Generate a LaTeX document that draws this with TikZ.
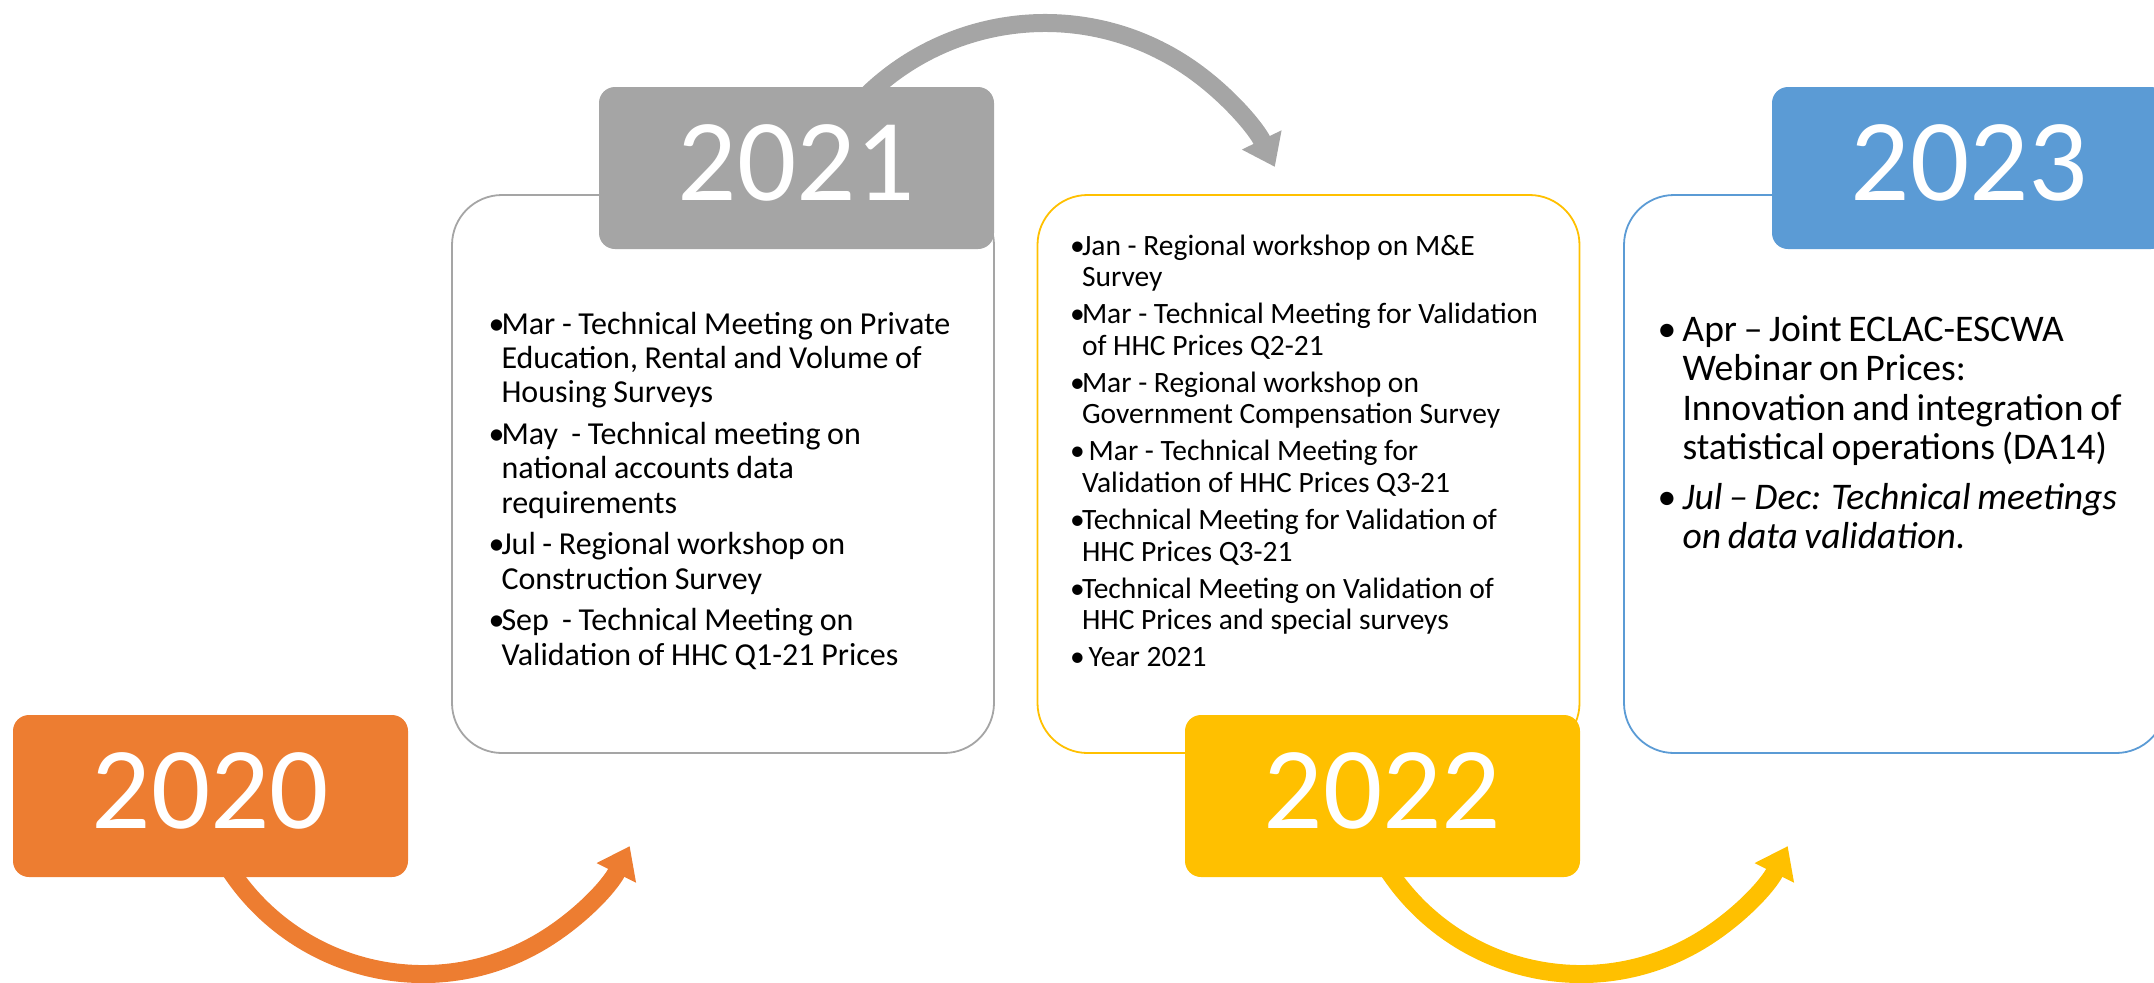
\documentclass[tikz,border=0pt]{standalone}
\usepackage{fontspec}
\setmainfont{Carlito}
\usetikzlibrary{arrows.meta,backgrounds}
\definecolor{yorange}{HTML}{ED7D31}
\definecolor{ygrey}{HTML}{A5A5A5}
\definecolor{yyellow}{HTML}{FFC000}
\definecolor{yblue}{HTML}{5B9BD5}
% first item: continues the paragraph TikZ opens; later items start a new one
\newcommand\bfirst[2]{\hangindent=#1\hangafter=1\makebox[#1][l]{\textbullet}#2}
\newcommand\bitem[2]{\par\hangindent=#1\hangafter=1\noindent\makebox[#1][l]{\textbullet}#2}
\begin{document}
\begin{tikzpicture}[x=0.5pt,y=-0.5pt,
  yearbox/.style={rectangle, rounded corners=8pt, minimum width=197.5pt, minimum height=81pt,
    inner sep=0pt, text=white, font=\fontsize{58.5}{60}\selectfont, text depth=5pt},
  eventbox/.style={rectangle, rounded corners=25pt, draw, line width=0.9pt, fill=white,
    minimum width=271pt, minimum height=279pt, inner sep=0pt},
  yrarrow/.style={line width=9pt, -{Triangle[length=15pt,width=21pt]}},
  evtext/.style={anchor=base west, inner sep=0pt, text width=#1},
]
\useasboundingbox (0,0) rectangle (2154,982);
\clip (0,0) rectangle (2154,982);

% event boxes
\node[eventbox, draw=ygrey]   (c2) at (723,474) {};
\node[eventbox, draw=yyellow] (c3) at (1308.5,474) {};
\node[eventbox, draw=yblue]   (c4) at (1895,474) {};

% year boxes
\node[yearbox, fill=yorange] (b1) at (210.5,796) {2020};
\node[yearbox, fill=ygrey]   (b2) at (796.5,168) {2021};
\node[yearbox, fill=yyellow] (b3) at (1382.5,796) {2022};
\node[yearbox, fill=yblue]   (b4) at (1969.5,168) {2023};

% arrows
\begin{pgfonlayer}{background}
\draw[yrarrow, yorange] ([shift={(212.5,-53)}]b1.center) ++(150:231)
  arc[start angle=150, end angle=26.5, radius=231];
\draw[yrarrow, ygrey] ([shift={(248.5,110.5)}]b2.center) ++(-145:255.5)
  arc[start angle=-145, end angle=-25.9, radius=255.5];
\draw[yrarrow, yyellow] ([shift={(198.5,-53)}]b3.center) ++(150:231)
  arc[start angle=150, end angle=26.5, radius=231];
\end{pgfonlayer}

% texts
\node[evtext=270pt] (t2) at ([shift={(37,140)}]c2.north west) {%
\fontsize{16}{17.15}\selectfont\parindent0pt\parskip3.7pt%
\bfirst{6.5pt}{Mar - Technical Meeting on Private\newline Education, Rental and Volume of\newline Housing Surveys}
\bitem{6.5pt}{May\ \ - Technical meeting on\newline national accounts data\newline requirements}
\bitem{6.5pt}{Jul - Regional workshop on\newline Construction Survey}
\bitem{6.5pt}{Sep\ \ - Technical Meeting on\newline Validation of HHC Q1-21 Prices}\par};

\node[evtext=265pt] (t3) at ([shift={(33,61)}]c3.north west) {%
\fontsize{14.75}{15.8}\selectfont\parindent0pt\parskip2.7pt%
\bfirst{6pt}{Jan - Regional workshop on M\&E\newline Survey}
\bitem{6pt}{Mar - Technical Meeting for Validation\newline of HHC Prices Q2-21}
\bitem{6pt}{Mar - Regional workshop on\newline Government Compensation Survey}
\bitem{6pt}{\ Mar - Technical Meeting for\newline Validation of HHC Prices Q3-21}
\bitem{6pt}{Technical Meeting for Validation of\newline HHC Prices Q3-21}
\bitem{6pt}{Technical Meeting on Validation of\newline HHC Prices and special surveys}
\bitem{6pt}{\ Year 2021}\par};

\node[evtext=260pt] (t4) at ([shift={(34,147)}]c4.north west) {%
\fontsize{18.8}{19.8}\selectfont\parindent0pt\parskip4.8pt%
\bfirst{12.5pt}{Apr -- Joint ECLAC-ESCWA\newline Webinar on Prices:\newline Innovation and integration of\newline statistical operations (DA14)}
\bitem{12.5pt}{\itshape Jul -- Dec: Technical meetings\newline on data validation.}\par};
\end{tikzpicture}
\end{document}
